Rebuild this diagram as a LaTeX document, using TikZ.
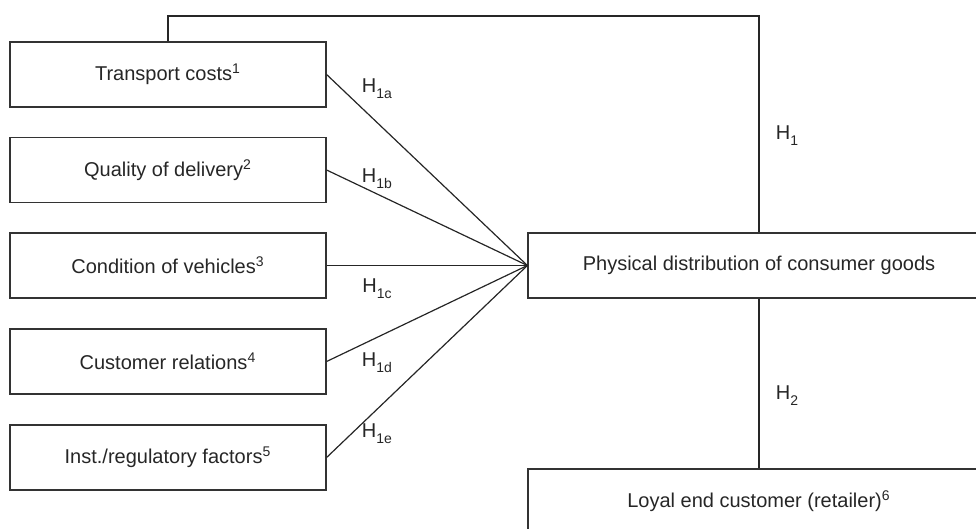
\documentclass[tikz,border=0pt]{standalone}
\usepackage{fontspec}
\setmainfont{Liberation Sans}
\usetikzlibrary{positioning}

\newcommand{\hyp}[1]{H\raisebox{-0.55ex}{\scriptsize #1}}

\begin{document}
\begin{tikzpicture}[
		x=0.5pt, y=-0.5pt,
		factorbox/.style={
			draw=black!80,
			line width=0.6pt,
			minimum width=158pt,
			minimum height=32.5pt,
			align=center,
			inner sep=4pt,
			font=\normalsize,
			text=black!85,
		},
		widebox/.style={
			factorbox,
			minimum width=231pt,
		},
		link/.style={
			draw=black!85,
			line width=0.6pt,
		},
		hlabel/.style={
			font=\normalsize,
			text=black!85,
			inner sep=0pt,
		}
	]

		% Cadre
		\useasboundingbox (0,0) rectangle (976,529);
		\clip (0,0) rectangle (976,529);

		% Facteurs (de haut en bas)
		\node[factorbox] (cost) at (168,74.5) {Transport costs\textsuperscript{1}};
		\node[factorbox] (quality) at (168,170) {Quality of delivery\textsuperscript{2}};
		\node[factorbox] (vehicle) at (168,265.5) {Condition of vehicles\textsuperscript{3}};
		\node[factorbox] (relation) at (168,361.5) {Customer relations\textsuperscript{4}};
		\node[factorbox] (regul) at (168,457.5) {Inst./regulatory factors\textsuperscript{5}};

		% Distribution et client
		\node[widebox] (distrib) at (759,265.5) {Physical distribution of consumer goods};
		\node[widebox] (loyal) at (759,501.5) {Loyal end customer (retailer)\textsuperscript{6}};

		% Connexions
		\foreach \f in {cost, quality, vehicle, relation, regul}
			\draw[link] (\f.east) -- (distrib.west);
		\coordinate (top) at (759,16);
		\draw[link] (cost.north) |- (top) -- (distrib.north);
		\draw[link] (distrib.south) -- (loyal.north);

		% Hypotheses
		\node[hlabel] (h1a) at (377,89) {\hyp{1a}};
		\node[hlabel] (h1b) at (377,179) {\hyp{1b}};
		\node[hlabel] (h1c) at (377,289) {\hyp{1c}};
		\node[hlabel] (h1d) at (377,363) {\hyp{1d}};
		\node[hlabel] (h1e) at (377,434) {\hyp{1e}};
		\node[hlabel] (h1) at (787,136) {\hyp{1}};
		\node[hlabel] (h2) at (787,396) {\hyp{2}};

	\end{tikzpicture}
\end{document}
